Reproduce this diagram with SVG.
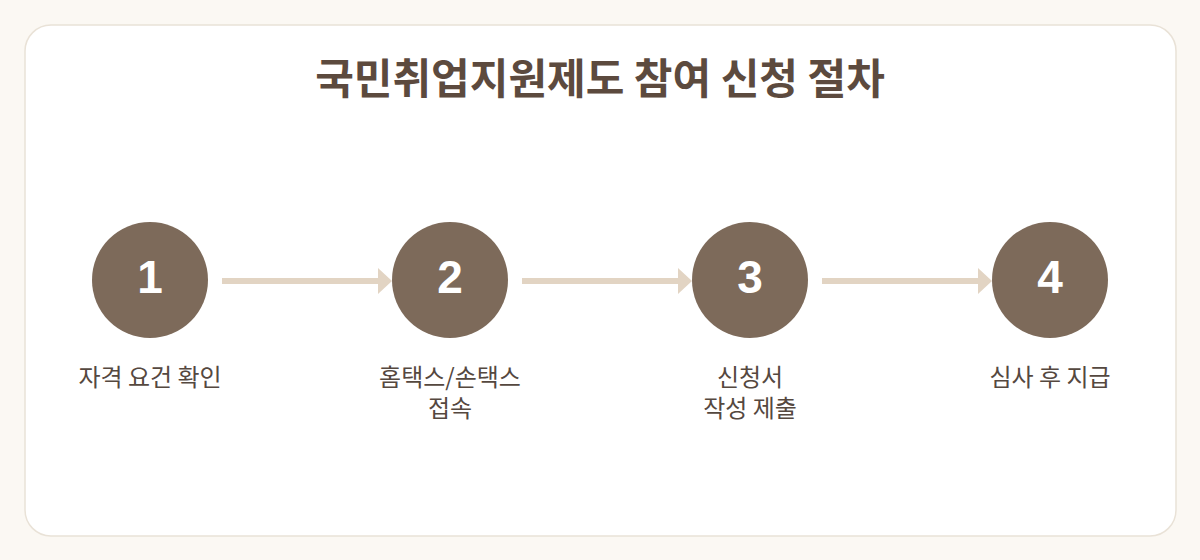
<svg xmlns="http://www.w3.org/2000/svg" width="1200" height="560" viewBox="0 0 1200 560">
<defs>
<style>
.title{font-family:"Noto Sans CJK KR","Noto Sans",sans-serif;font-weight:700;font-size:42px;fill:#5c4a3e;text-anchor:middle}
.num{font-family:"Liberation Sans",Arial,sans-serif;font-weight:700;font-size:46px;fill:#ffffff;text-anchor:middle}
.lbl{font-family:"Noto Sans CJK KR","Noto Sans",sans-serif;font-size:24px;fill:#55483f;text-anchor:middle}
.step{fill:#7d6a5a}
.conn{stroke:#e2d4c3;stroke-width:6;fill:none}
.head{fill:#e2d4c3}
</style>
</defs>
<rect x="0" y="0" width="1200" height="560" fill="#fbf8f3"/>
<rect x="25" y="25" width="1151" height="511" rx="26" ry="26" fill="#ffffff" stroke="#e9e2d7" stroke-width="1.5"/>
<text class="title" x="600" y="94">국민취업지원제도 참여 신청 절차</text>
<g id="connectors">
<line class="conn" x1="222" y1="281" x2="380" y2="281"/>
<polygon class="head" points="378,268 392,281 378,294"/>
<line class="conn" x1="522" y1="281" x2="680" y2="281"/>
<polygon class="head" points="678,268 692,281 678,294"/>
<line class="conn" x1="822" y1="281" x2="980" y2="281"/>
<polygon class="head" points="978,268 992,281 978,294"/>
</g>
<g id="step1">
<circle class="step" cx="150" cy="280" r="58"/>
<text class="num" x="150" y="293">1</text>
<text class="lbl" x="150" y="386">자격 요건 확인</text>
</g>
<g id="step2">
<circle class="step" cx="450" cy="280" r="58"/>
<text class="num" x="450" y="293">2</text>
<text class="lbl" x="450" y="386">홈택스/손택스</text>
<text class="lbl" x="450" y="417">접속</text>
</g>
<g id="step3">
<circle class="step" cx="750" cy="280" r="58"/>
<text class="num" x="750" y="293">3</text>
<text class="lbl" x="750" y="386">신청서</text>
<text class="lbl" x="750" y="417">작성 제출</text>
</g>
<g id="step4">
<circle class="step" cx="1050" cy="280" r="58"/>
<text class="num" x="1050" y="293">4</text>
<text class="lbl" x="1050" y="386">심사 후 지급</text>
</g>
</svg>
